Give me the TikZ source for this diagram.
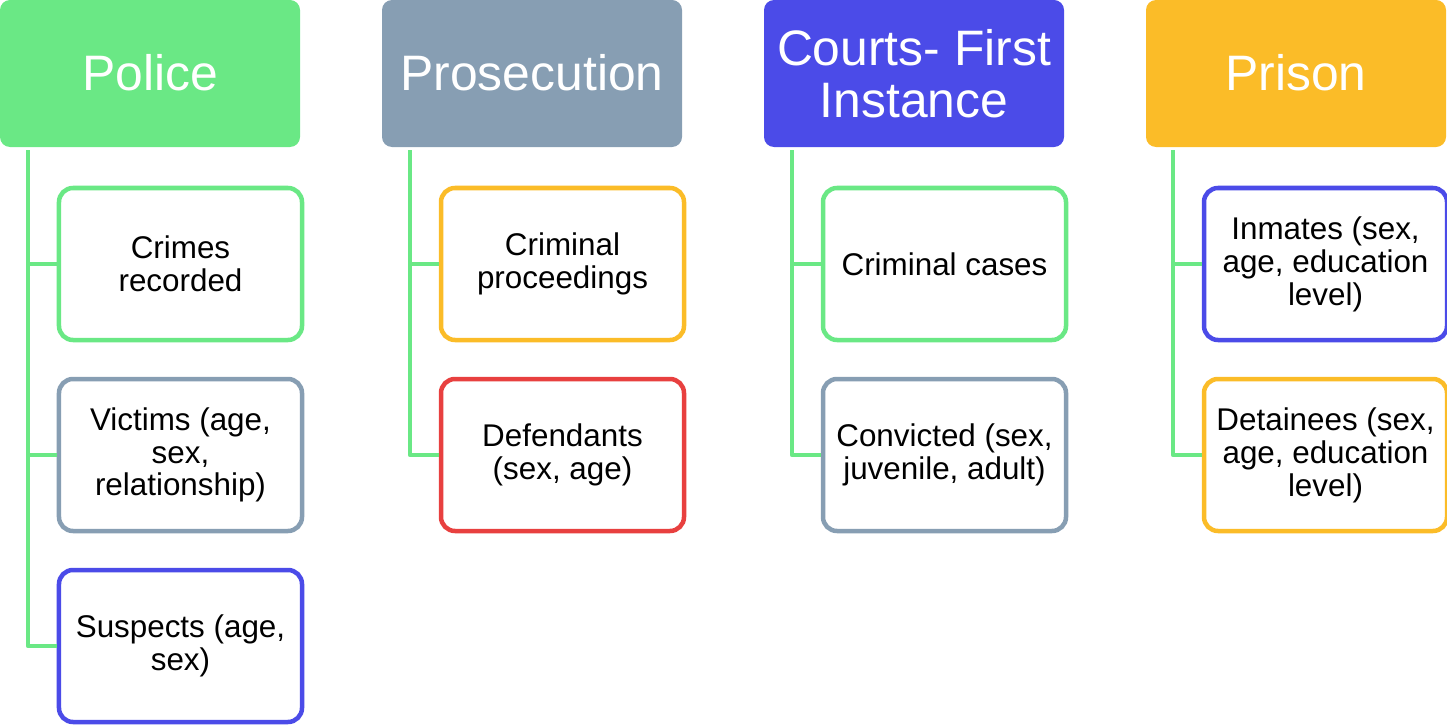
\documentclass[tikz,border=0pt]{standalone}
\usepackage{fontspec}
\setmainfont{Liberation Sans}
\definecolor{cgreen}{HTML}{6AE885}
\definecolor{cslate}{HTML}{879EB3}
\definecolor{cblue}{HTML}{4B4BE8}
\definecolor{camber}{HTML}{FBBC28}
\definecolor{cred}{HTML}{E8403F}
\tikzset{
  head/.style={fill=#1, draw=none, rounded corners=10bp, minimum width=300bp, minimum height=147bp,
    inner sep=0pt, text=white, align=center, font=\fontsize{50}{52}\selectfont},
  leaf/.style={draw=#1, fill=white, line width=4.5bp, rounded corners=14bp, minimum width=243bp, minimum height=152bp,
    inner sep=0pt, text=black, align=center, font=\fontsize{31.5}{33}\selectfont},
  conn/.style={draw=cgreen, line width=4bp, line join=round}
}
\begin{document}
\begin{tikzpicture}[x=1bp,y=-1bp]
\useasboundingbox (0,0) rectangle (1447,725);
% headers
\node[head=cgreen] (police) at (150,73.5) {\raisebox{2bp}{Police}};
\node[head=cslate] (prosec) at (532,73.5) {\raisebox{2bp}{Prosecution}};
\node[head=cblue] (courts) at (914,73.5) {Courts- First\\Instance};
\node[head=camber] (prison) at (1296,73.5) {\raisebox{2bp}{Prison}};
% children
\node[leaf=cgreen] (crimes) at (180.5,264) {Crimes\\recorded};
\node[leaf=cslate] (victims) at (180.5,455) {Victims (age,\\sex,\\relationship)};
\node[leaf=cblue] (suspects) at (180.5,646) {Suspects (age,\\sex)};
\node[leaf=camber] (procs) at (562.5,264) {Criminal\\proceedings};
\node[leaf=cred] (defend) at (562.5,455) {Defendants\\(sex, age)};
\node[leaf=cgreen] (cases) at (944.5,264) {Criminal cases};
\node[leaf=cslate] (convict) at (944.5,455) {Convicted (sex,\\juvenile, adult)};
\node[leaf=cblue] (inmates) at (1325.5,264) {Inmates (sex,\\age, education\\level)};
\node[leaf=camber] (detain) at (1325.5,455) {Detainees (sex,\\age, education\\level)};
% connectors
\coordinate (pa) at ([xshift=28bp,yshift=-3bp]police.south west);
\coordinate (pb) at ([xshift=28bp,yshift=-3bp]prosec.south west);
\coordinate (pc) at ([xshift=28bp,yshift=-3bp]courts.south west);
\coordinate (pd) at ([xshift=27bp,yshift=-3bp]prison.south west);
\draw[conn] (pa) |- (suspects.west);
\draw[conn] (pa) |- (victims.west);
\draw[conn] (pa) |- (crimes.west);
\draw[conn] (pb) |- (defend.west);
\draw[conn] (pb) |- (procs.west);
\draw[conn] (pc) |- (convict.west);
\draw[conn] (pc) |- (cases.west);
\draw[conn] (pd) |- (detain.west);
\draw[conn] (pd) |- (inmates.west);
\end{tikzpicture}
\end{document}
